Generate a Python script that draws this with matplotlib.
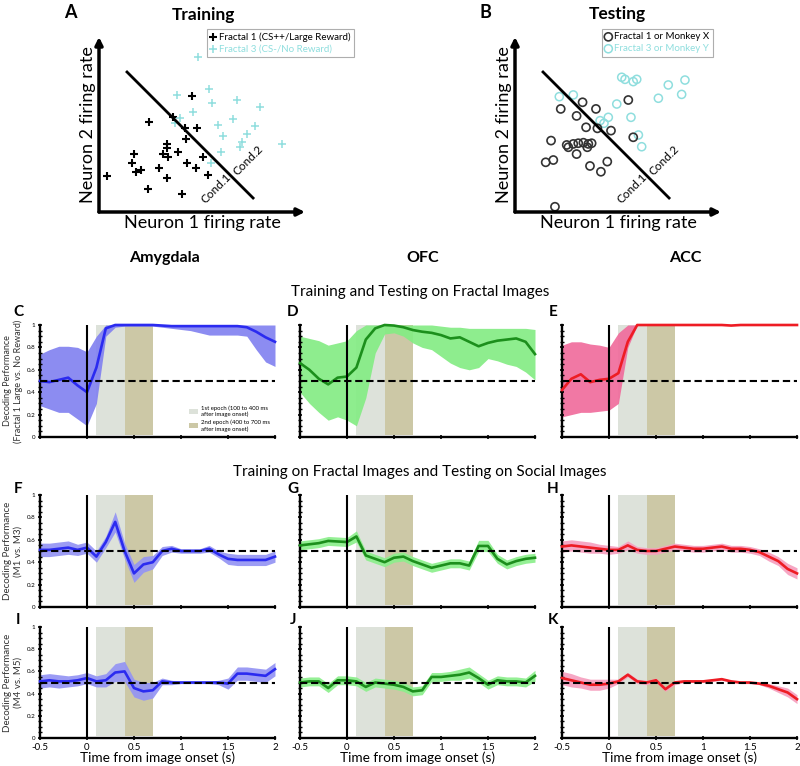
import matplotlib
matplotlib.use("Agg")
import matplotlib.pyplot as plt
from matplotlib.patches import Patch
import numpy as np

plt.rcParams['font.family'] = ['Lato', 'DejaVu Sans']

# ---------------- scatter panels (A, B) ----------------
trainA_x = [0.39, 2.43, 1.70, 1.60, 1.80, 2.04, 2.38, 2.91, 3.30, 3.30, 3.11, 3.35, 3.83, 3.30,
            4.03, 4.27, 4.71, 5.05, 5.29, 4.51, 4.17, 4.22, 4.76, 3.59]
trainA_y = [2.06, 5.14, 3.31, 2.80, 2.29, 2.40, 1.31, 2.51, 3.89, 3.66, 3.31, 3.14, 3.43, 1.94,
            1.03, 2.80, 2.51, 3.14, 2.11, 6.63, 4.80, 4.17, 4.80, 5.43]
trainB_x = [3.79, 5.34, 5.49, 6.70, 7.82, 4.56, 3.69, 3.93, 5.78, 6.50, 7.57, 6.02, 6.94, 6.84,
            8.88, 5.92, 5.44, 4.81, 7.18]
trainB_y = [6.69, 7.03, 6.23, 6.40, 6.00, 5.71, 5.09, 5.37, 4.97, 5.31, 4.91, 4.34, 4.00, 3.71,
            3.89, 3.43, 2.80, 8.86, 4.46]
testA_x = [3.28, 2.22, 3.93, 2.99, 3.45, 4.00, 4.66, 5.74, 5.50, 1.75, 2.51, 2.59, 2.83, 3.07,
           3.32, 3.56, 3.72, 2.99, 3.51, 1.49, 1.86, 3.64, 4.48, 4.17, 1.94]
testA_y = [6.27, 5.89, 5.89, 5.49, 4.84, 4.78, 4.65, 4.27, 6.40, 4.08, 3.83, 3.70, 3.89, 3.93,
           3.96, 3.89, 3.93, 3.31, 3.70, 2.84, 2.97, 2.63, 2.88, 2.30, 0.30]
testB_x = [5.18, 5.34, 5.74, 5.91, 7.44, 8.25, 8.09, 6.96, 4.94, 2.15, 5.63, 4.53, 4.32, 6.15,
           5.99, 2.83, 4.13]
testB_y = [7.70, 7.58, 7.45, 7.58, 7.26, 7.54, 6.72, 6.50, 6.17, 6.59, 5.41, 5.41, 5.07, 3.73,
           4.40, 6.69, 5.22]
boundary_x = [1.36, 7.48]
boundary_y = [8.0, 0.8]

# ---------------- decoding time courses ----------------
time = [-0.5, -0.4, -0.3, -0.2, -0.1, 0.0, 0.1, 0.2, 0.3, 0.4, 0.5, 0.6, 0.7, 0.8, 0.9, 1.0,
        1.1, 1.2, 1.3, 1.4, 1.5, 1.6, 1.7, 1.8, 1.9, 2.0]

C_mean = [0.50, 0.49, 0.51, 0.53, 0.46, 0.40, 0.62, 0.97, 1.0, 1.0, 1.0, 1.0, 1.0, 0.995, 0.99,
          0.99, 0.99, 0.99, 0.99, 0.99, 0.99, 0.99, 0.98, 0.94, 0.89, 0.85]
C_low = [0.28, 0.25, 0.22, 0.22, 0.16, 0.10, 0.30, 0.90, 0.98, 0.99, 0.99, 0.99, 0.99, 0.98, 0.97,
         0.96, 0.95, 0.93, 0.91, 0.91, 0.91, 0.91, 0.90, 0.78, 0.67, 0.63]
C_high = [0.74, 0.78, 0.81, 0.81, 0.80, 0.76, 0.90, 1.0, 1.0, 1.0, 1.0, 1.0, 1.0, 1.0, 1.0,
          1.0, 1.0, 1.0, 1.0, 1.0, 1.0, 1.0, 1.0, 1.0, 1.0, 1.0]

D_mean = [0.66, 0.60, 0.52, 0.47, 0.53, 0.54, 0.62, 0.87, 0.97, 1.0, 0.995, 0.98, 0.955, 0.94,
          0.93, 0.91, 0.88, 0.89, 0.85, 0.81, 0.84, 0.86, 0.87, 0.88, 0.85, 0.74]
D_low = [0.40, 0.30, 0.22, 0.15, 0.18, 0.15, 0.10, 0.35, 0.75, 0.92, 0.93, 0.90, 0.84, 0.80,
         0.78, 0.72, 0.66, 0.62, 0.60, 0.62, 0.70, 0.68, 0.65, 0.63, 0.58, 0.51]
D_high = [0.90, 0.88, 0.86, 0.82, 0.84, 0.86, 0.95, 1.0, 1.0, 1.0, 1.0, 1.0, 1.0, 1.0, 1.0,
          0.99, 0.98, 0.98, 0.97, 0.97, 0.97, 0.97, 0.97, 0.97, 0.97, 0.96]

E_mean = [0.42, 0.52, 0.56, 0.49, 0.51, 0.52, 0.57, 0.85, 1.0, 1.0, 1.0, 1.0, 1.0, 1.0, 1.0,
          1.0, 1.0, 1.0, 0.995, 1.0, 1.0, 1.0, 1.0, 1.0, 1.0, 1.0]
E_low = [0.18, 0.20, 0.22, 0.22, 0.23, 0.24, 0.30, 0.80, 1.0, 1.0, 1.0, 1.0, 1.0, 1.0, 1.0,
         1.0, 1.0, 1.0, 1.0, 1.0, 1.0, 1.0, 1.0, 1.0, 1.0, 1.0]
E_high = [0.82, 0.85, 0.85, 0.83, 0.82, 0.80, 0.93, 1.0, 1.0, 1.0, 1.0, 1.0, 1.0, 1.0, 1.0,
          1.0, 1.0, 1.0, 1.0, 1.0, 1.0, 1.0, 1.0, 1.0, 1.0, 1.0]

F_mean = [0.51, 0.51, 0.52, 0.53, 0.51, 0.53, 0.45, 0.58, 0.76, 0.50, 0.30, 0.38, 0.40, 0.50,
          0.52, 0.50, 0.50, 0.50, 0.52, 0.47, 0.43, 0.42, 0.42, 0.42, 0.42, 0.45]
F_err = [0.06, 0.06, 0.06, 0.06, 0.05, 0.05, 0.05, 0.05, 0.09, 0.07, 0.08, 0.07, 0.06, 0.04,
         0.03, 0.02, 0.02, 0.02, 0.03, 0.03, 0.05, 0.05, 0.05, 0.05, 0.05, 0.05]

G_mean = [0.55, 0.56, 0.57, 0.59, 0.585, 0.58, 0.63, 0.46, 0.43, 0.40, 0.44, 0.45, 0.41, 0.38,
          0.35, 0.37, 0.39, 0.39, 0.37, 0.545, 0.545, 0.43, 0.38, 0.41, 0.43, 0.44]
G_err = [0.04, 0.04, 0.04, 0.04, 0.04, 0.04, 0.05, 0.04, 0.04, 0.04, 0.04, 0.04, 0.04, 0.04,
         0.04, 0.04, 0.04, 0.04, 0.04, 0.05, 0.05, 0.04, 0.04, 0.04, 0.04, 0.04]

H_mean = [0.54, 0.55, 0.54, 0.53, 0.52, 0.51, 0.51, 0.55, 0.51, 0.50, 0.50, 0.52, 0.54, 0.53,
          0.52, 0.52, 0.53, 0.54, 0.52, 0.52, 0.51, 0.49, 0.45, 0.41, 0.34, 0.30]
H_err = [0.05, 0.05, 0.05, 0.05, 0.04, 0.04, 0.03, 0.04, 0.03, 0.03, 0.03, 0.03, 0.03, 0.03,
         0.03, 0.03, 0.03, 0.03, 0.03, 0.03, 0.03, 0.03, 0.04, 0.04, 0.05, 0.05]

I_mean = [0.51, 0.52, 0.51, 0.51, 0.52, 0.54, 0.51, 0.52, 0.59, 0.60, 0.45, 0.42, 0.43, 0.51,
          0.50, 0.50, 0.50, 0.50, 0.50, 0.50, 0.49, 0.58, 0.58, 0.57, 0.56, 0.62]
I_err = [0.06, 0.06, 0.06, 0.05, 0.05, 0.05, 0.05, 0.06, 0.08, 0.09, 0.08, 0.08, 0.07, 0.03,
         0.02, 0.01, 0.01, 0.01, 0.01, 0.02, 0.05, 0.06, 0.06, 0.06, 0.06, 0.06]

J_mean = [0.50, 0.51, 0.51, 0.45, 0.52, 0.52, 0.51, 0.46, 0.50, 0.49, 0.48, 0.46, 0.42, 0.43,
          0.55, 0.55, 0.56, 0.57, 0.59, 0.54, 0.48, 0.52, 0.51, 0.51, 0.50, 0.56]
J_err = [0.04, 0.04, 0.04, 0.04, 0.04, 0.04, 0.04, 0.04, 0.04, 0.04, 0.04, 0.04, 0.04, 0.04,
         0.04, 0.04, 0.04, 0.05, 0.05, 0.04, 0.04, 0.04, 0.04, 0.04, 0.04, 0.05]

K_mean = [0.54, 0.52, 0.50, 0.48, 0.48, 0.49, 0.51, 0.57, 0.51, 0.50, 0.52, 0.44, 0.50, 0.51,
          0.51, 0.51, 0.52, 0.53, 0.51, 0.50, 0.50, 0.49, 0.47, 0.44, 0.41, 0.35]
K_err = [0.06, 0.06, 0.05, 0.05, 0.05, 0.04, 0.02, 0.02, 0.02, 0.02, 0.02, 0.02, 0.02, 0.01,
         0.01, 0.01, 0.01, 0.01, 0.01, 0.01, 0.01, 0.01, 0.02, 0.03, 0.04, 0.04]

x_ticks = [-0.5, 0, 0.5, 1, 1.5, 2]
x_ticklabels = ['-0.5', '0', '0.5', '1', '1.5', '2']
y_ticks = [0, 0.2, 0.4, 0.6, 0.8, 1]
y_ticklabels = ['0', '0.2', '0.4', '0.6', '0.8', '1']
epoch1 = (0.1, 0.4)
epoch2 = (0.4, 0.7)

col_titles = ['Amygdala', 'OFC', 'ACC']
row_titles = ['Training and Testing on Fractal Images',
              'Training on Fractal Images and Testing on Social Images']
ylabel_sub = ['(Fractal 1 Large vs. No Reward)', '(M1 vs. M3)', '(M4 vs. M5)']

# ---------------- figure ----------------
W, H = 800, 766
fig = plt.figure(figsize=(8, 7.66), dpi=100)

def fx(px):
    return px / W

def fy(py):
    return 1 - py / H

cyan = '#8fdede'

def scatter_panel(left_px, title, letter, letter_px, title_px, kind, legend_px):
    ax = fig.add_axes([fx(left_px), fy(212), 206 / W, 175 / H])
    ax.set_xlim(0, 10)
    ax.set_ylim(0, 10)
    for s in ax.spines.values():
        s.set_visible(False)
    ax.set_xticks([])
    ax.set_yticks([])
    ax.patch.set_alpha(0)
    for end in [(1.0, 0), (0, 1.0)]:
        ax.annotate('', xy=end, xytext=(0, 0), xycoords='axes fraction',
                    arrowprops=dict(arrowstyle='-|>', lw=2.5, color='black', mutation_scale=11,
                                    shrinkA=0, shrinkB=0))
    ax.plot(boundary_x, boundary_y, color='black', lw=2.0)
    if kind == 'train':
        h1 = ax.scatter(trainA_x, trainA_y, marker='+', s=38, color='black', lw=1.5)
        h2 = ax.scatter(trainB_x, trainB_y, marker='+', s=34, color=cyan, lw=1.1)
        labels = ['Fractal 1 (CS++/Large Reward)', 'Fractal 3 (CS-/No Reward)']
    else:
        h2 = ax.scatter(testB_x, testB_y, marker='o', s=34, facecolors='none', edgecolors=cyan, lw=1.1)
        h1 = ax.scatter(testA_x, testA_y, marker='o', s=34, facecolors='none', edgecolors='#333333', lw=1.2)
        labels = ['Fractal 1 or Monkey X', 'Fractal 3 or Monkey Y']
    ax.text(5.71, 1.35, 'Cond.1', rotation=45, fontsize=8.5, ha='center', va='center')
    ax.text(7.25, 2.97, 'Cond.2', rotation=45, fontsize=8.5, ha='center', va='center')
    ax.set_xlabel('Neuron 1 firing rate', fontsize=13, labelpad=2)
    ax.set_ylabel('Neuron 2 firing rate', fontsize=13, labelpad=2)
    leg = ax.legend([h1, h2], labels, loc='upper left',
                    bbox_to_anchor=(fx(legend_px), fy(29)), bbox_transform=fig.transFigure,
                    fontsize=7.0, frameon=True, fancybox=False, edgecolor='#9a9a9a',
                    handlelength=0.6, handletextpad=0.3, borderpad=0.35, labelspacing=0.3,
                    borderaxespad=0)
    leg.get_frame().set_linewidth(0.8)
    leg.get_texts()[1].set_color(cyan)
    fig.text(fx(letter_px[0]), fy(letter_px[1]), letter, fontsize=13, fontweight='bold',
             ha='center', va='center')
    fig.text(fx(title_px[0]), fy(title_px[1]), title, fontsize=12.5, fontweight='bold',
             ha='center', va='center')
    return ax

scatter_panel(99, 'Training', 'A', (70, 13), (203, 15), 'train', 207)
scatter_panel(515, 'Testing', 'B', (485, 12), (617, 14), 'test', 602)

# ---- time-course panels ----
col_left = [40, 300, 562]
row_top = [325, 495, 627]
row_bot = [437, 607, 738]
colors = [('#2b2bf0', '#8282f0'), ('#1c8f1c', '#84ec84'), ('#ee1c24', '#f06c9c')]
band_colors_lower = ['#9494f4', '#8cef8c', '#f6a0bf']

panels = [
    [(C_mean, C_low, C_high), (D_mean, D_low, D_high), (E_mean, E_low, E_high)],
    [(F_mean, F_err), (G_mean, G_err), (H_mean, H_err)],
    [(I_mean, I_err), (J_mean, J_err), (K_mean, K_err)],
]
letters = [['C', 'D', 'E'], ['F', 'G', 'H'], ['I', 'J', 'K']]
letter_pos_x = [18, 293, 553]
letter_pos_y = [312, 489, 620]

t = np.array(time)
for r in range(3):
    for c in range(3):
        ax = fig.add_axes([fx(col_left[c]), fy(row_bot[r]), 235 / W, (row_bot[r] - row_top[r]) / H])
        ax.set_xlim(-0.5, 2.0)
        ax.set_ylim(0, 1.0)
        ax.axvspan(epoch1[0], epoch1[1], ymin=0.02, ymax=1.0, color='#dde2da', lw=0, zorder=0)
        ax.axvspan(epoch2[0], epoch2[1], ymin=0.02, ymax=1.0, color='#ccc8a6', lw=0, zorder=0)
        data = panels[r][c]
        line_col, band_col = colors[c]
        if r > 0:
            band_col = band_colors_lower[c]
        if len(data) == 3:
            m, lo, hi = [np.array(d) for d in data]
        else:
            m = np.array(data[0])
            e = np.array(data[1])
            lo, hi = m - e, m + e
        ax.fill_between(t, lo, hi, color=band_col, lw=0, alpha=0.92, zorder=1)
        ax.plot(t, m, color=line_col, lw=1.9, zorder=3, clip_on=False)
        ax.axhline(0.5, color='black', lw=1.5, ls=(0, (3.5, 1.8)), zorder=4)
        ax.axvline(0, color='black', lw=1.5, zorder=4)
        for side in ['top', 'right']:
            ax.spines[side].set_visible(False)
        for side in ['left', 'bottom']:
            ax.spines[side].set_linewidth(1.7)
        ax.set_xticks(x_ticks)
        ax.set_yticks(y_ticks)
        ax.set_yticks(np.arange(0, 1.001, 0.05), minor=True)
        ax.tick_params(axis='both', which='both', direction='inout', length=3.5, width=1.2)
        ax.tick_params(axis='y', which='minor', length=3, width=1.0)
        if c == 0:
            ax.set_yticklabels(y_ticklabels, fontsize=4.5)
            ax.tick_params(axis='y', pad=1.5)
            ax.set_ylabel('Decoding Performance\n' + ylabel_sub[r],
                          fontsize=7 if r > 0 else 6.5, labelpad=3, color='#333333')
        else:
            ax.set_yticklabels([])
        if r == 2:
            ax.set_xticklabels(x_ticklabels, fontsize=7)
            ax.tick_params(axis='x', pad=1.5)
            ax.set_xlabel('Time from image onset (s)', fontsize=9.8, labelpad=0)
        else:
            ax.set_xticklabels([])
        if r == 0 and c == 0:
            handles = [Patch(facecolor='#dde2da', edgecolor='none'),
                       Patch(facecolor='#ccc8a6', edgecolor='none')]
            ax.legend(handles, ['1st epoch (100 to 400 ms\nafter image onset)',
                                '2nd epoch (400 to 700 ms\nafter image onset)'],
                      loc='lower right', bbox_to_anchor=(1.0, 0.0), fontsize=4.3, frameon=False,
                      handlelength=1.6, handleheight=0.9, handletextpad=0.4, labelspacing=0.4)
        fig.text(fx(letter_pos_x[c]), fy(letter_pos_y[r]), letters[r][c], fontsize=11,
                 fontweight='bold', ha='center', va='center')

col_center = [164, 423, 685]
for c in range(3):
    fig.text(fx(col_center[c]), fy(258), col_titles[c], fontsize=11.5, fontweight='bold',
             ha='center', va='center')
fig.text(fx(420), fy(292), row_titles[0], fontsize=11, ha='center', va='center')
fig.text(fx(420), fy(472), row_titles[1], fontsize=11, ha='center', va='center')

fig.savefig('out.png', dpi=100, facecolor='white')
